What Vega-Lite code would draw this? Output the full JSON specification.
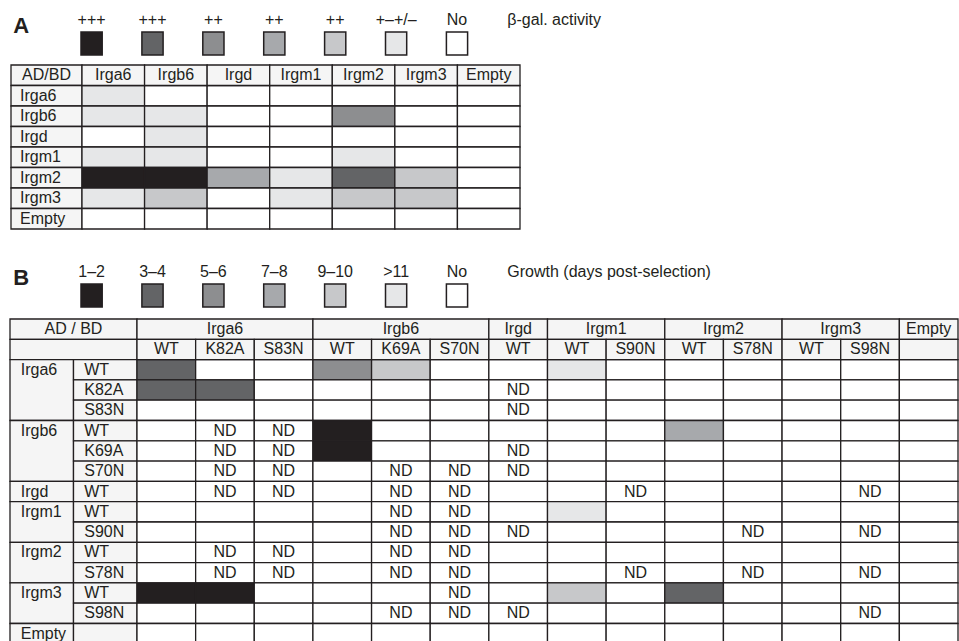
{
"$schema":"https://vega.github.io/schema/vega-lite/v6.json",
"width":959,"height":641,"autosize":{"type":"none"},"padding":0,"background":"#ffffff",
"config":{"view":{"stroke":null},"text":{"font":"Liberation Sans","fontSize":16,"fill":"#231f20"},"rect":{"stroke":"#231f20","strokeWidth":1.3}},
"datasets":{
"legend":[
{"panel":"A","k":"P","t":"A"},
{"panel":"A","k":"L1","t":"+++","v":"g1"},
{"panel":"A","k":"L2","t":"+++","v":"g2"},
{"panel":"A","k":"L3","t":"++","v":"g3"},
{"panel":"A","k":"L4","t":"++","v":"g4"},
{"panel":"A","k":"L5","t":"++","v":"g5"},
{"panel":"A","k":"L6","t":"+–+/–","v":"g6"},
{"panel":"A","k":"L7","t":"No","v":"w"},
{"panel":"A","k":"T","t":"β-gal. activity"},
{"panel":"B","k":"P","t":"B"},
{"panel":"B","k":"L1","t":"1–2","v":"g1"},
{"panel":"B","k":"L2","t":"3–4","v":"g2"},
{"panel":"B","k":"L3","t":"5–6","v":"g3"},
{"panel":"B","k":"L4","t":"7–8","v":"g4"},
{"panel":"B","k":"L5","t":"9–10","v":"g5"},
{"panel":"B","k":"L6","t":">11","v":"g6"},
{"panel":"B","k":"L7","t":"No","v":"w"},
{"panel":"B","k":"T","t":"Growth (days post-selection)"}
],
"aBody":[
{"ad":"Irga6","Irga6":"g6"},
{"ad":"Irgb6","Irga6":"g6","Irgb6":"g6","Irgm2":"g3"},
{"ad":"Irgd","Irgb6":"g6"},
{"ad":"Irgm1","Irga6":"g6","Irgb6":"g6","Irgm2":"g6"},
{"ad":"Irgm2","Irga6":"g1","Irgb6":"g1","Irgd":"g4","Irgm1":"g6","Irgm2":"g2","Irgm3":"g5"},
{"ad":"Irgm3","Irga6":"g6","Irgb6":"g5","Irgm1":"g6","Irgm2":"g5","Irgm3":"g5"},
{"ad":"Empty"}
],
"aLab":[
{"c":"AD/BD","r":"AD/BD","t":"AD/BD"},
{"c":"AD/BD","r":"Irga6","t":"Irga6"},
{"c":"AD/BD","r":"Irgb6","t":"Irgb6"},
{"c":"AD/BD","r":"Irgd","t":"Irgd"},
{"c":"AD/BD","r":"Irgm1","t":"Irgm1"},
{"c":"AD/BD","r":"Irgm2","t":"Irgm2"},
{"c":"AD/BD","r":"Irgm3","t":"Irgm3"},
{"c":"AD/BD","r":"Empty","t":"Empty"}
],
"aHdr":[
{"c":"Irga6","r":"AD/BD","t":"Irga6"},
{"c":"Irgb6","r":"AD/BD","t":"Irgb6"},
{"c":"Irgd","r":"AD/BD","t":"Irgd"},
{"c":"Irgm1","r":"AD/BD","t":"Irgm1"},
{"c":"Irgm2","r":"AD/BD","t":"Irgm2"},
{"c":"Irgm3","r":"AD/BD","t":"Irgm3"},
{"c":"Empty","r":"AD/BD","t":"Empty"}
],
"bBody":[
{"r":"a6WT","a6WT":"g2","b6WT":"g3","b6K":"g5","m1WT":"g6"},
{"r":"a6K","a6WT":"g2","a6K":"g2","dWT":"ND"},
{"r":"a6S","dWT":"ND"},
{"r":"b6WT","a6K":"ND","a6S":"ND","b6WT":"g1","m2WT":"g4"},
{"r":"b6K","a6K":"ND","a6S":"ND","b6WT":"g1","dWT":"ND"},
{"r":"b6S","a6K":"ND","a6S":"ND","b6K":"ND","b6S":"ND","dWT":"ND"},
{"r":"dWT","a6K":"ND","a6S":"ND","b6K":"ND","b6S":"ND","m1S":"ND","m3S":"ND"},
{"r":"m1WT","b6K":"ND","b6S":"ND","m1WT":"g6"},
{"r":"m1S","b6K":"ND","b6S":"ND","dWT":"ND","m2S":"ND","m3S":"ND"},
{"r":"m2WT","a6K":"ND","a6S":"ND","b6K":"ND","b6S":"ND"},
{"r":"m2S","a6K":"ND","a6S":"ND","b6K":"ND","b6S":"ND","m1S":"ND","m2S":"ND","m3S":"ND"},
{"r":"m3WT","a6WT":"g1","a6K":"g1","b6S":"ND","m1WT":"g5","m2WT":"g2"},
{"r":"m3S","b6K":"ND","b6S":"ND","dWT":"ND","m3S":"ND"},
{"r":"E"}
],
"bLab":[
{"x0":"g","x1":"v","y0":"h1","y1":"h1","t":"AD      /      BD","k":"e"},
{"x0":"g","x1":"v","y0":"h2","y1":"h2","t":""},
{"x0":"g","x1":"g","y0":"a6WT","y1":"a6S","t":"Irga6","k":"l"},
{"x0":"g","x1":"g","y0":"b6WT","y1":"b6S","t":"Irgb6","k":"l"},
{"x0":"g","x1":"g","y0":"dWT","y1":"dWT","t":"Irgd","k":"l"},
{"x0":"g","x1":"g","y0":"m1WT","y1":"m1S","t":"Irgm1","k":"l"},
{"x0":"g","x1":"g","y0":"m2WT","y1":"m2S","t":"Irgm2","k":"l"},
{"x0":"g","x1":"g","y0":"m3WT","y1":"m3S","t":"Irgm3","k":"l"},
{"x0":"g","x1":"g","y0":"E","y1":"E","t":"Empty","k":"l"},
{"x0":"v","x1":"v","y0":"a6WT","y1":"a6WT","t":"WT","k":"l"},
{"x0":"v","x1":"v","y0":"a6K","y1":"a6K","t":"K82A","k":"l"},
{"x0":"v","x1":"v","y0":"a6S","y1":"a6S","t":"S83N","k":"l"},
{"x0":"v","x1":"v","y0":"b6WT","y1":"b6WT","t":"WT","k":"l"},
{"x0":"v","x1":"v","y0":"b6K","y1":"b6K","t":"K69A","k":"l"},
{"x0":"v","x1":"v","y0":"b6S","y1":"b6S","t":"S70N","k":"l"},
{"x0":"v","x1":"v","y0":"dWT","y1":"dWT","t":"WT","k":"l"},
{"x0":"v","x1":"v","y0":"m1WT","y1":"m1WT","t":"WT","k":"l"},
{"x0":"v","x1":"v","y0":"m1S","y1":"m1S","t":"S90N","k":"l"},
{"x0":"v","x1":"v","y0":"m2WT","y1":"m2WT","t":"WT","k":"l"},
{"x0":"v","x1":"v","y0":"m2S","y1":"m2S","t":"S78N","k":"l"},
{"x0":"v","x1":"v","y0":"m3WT","y1":"m3WT","t":"WT","k":"l"},
{"x0":"v","x1":"v","y0":"m3S","y1":"m3S","t":"S98N","k":"l"},
{"x0":"v","x1":"v","y0":"E","y1":"E","t":""}
],
"bHdr":[
{"x0":"a6WT","x1":"a6S","y":"h1","t":"Irga6","m":"a6K","k":"c"},
{"x0":"b6WT","x1":"b6S","y":"h1","t":"Irgb6","m":"b6K","k":"c"},
{"x0":"dWT","x1":"dWT","y":"h1","t":"Irgd","m":"dWT","k":"c"},
{"x0":"m1WT","x1":"m1S","y":"h1","t":"Irgm1","m":"m1S","k":"e"},
{"x0":"m2WT","x1":"m2S","y":"h1","t":"Irgm2","m":"m2S","k":"e"},
{"x0":"m3WT","x1":"m3S","y":"h1","t":"Irgm3","m":"m3S","k":"e"},
{"x0":"E","x1":"E","y":"h1","t":"Empty","m":"E","k":"c"},
{"x0":"a6WT","x1":"a6WT","y":"h2","t":"WT","m":"a6WT","k":"c"},
{"x0":"a6K","x1":"a6K","y":"h2","t":"K82A","m":"a6K","k":"c"},
{"x0":"a6S","x1":"a6S","y":"h2","t":"S83N","m":"a6S","k":"c"},
{"x0":"b6WT","x1":"b6WT","y":"h2","t":"WT","m":"b6WT","k":"c"},
{"x0":"b6K","x1":"b6K","y":"h2","t":"K69A","m":"b6K","k":"c"},
{"x0":"b6S","x1":"b6S","y":"h2","t":"S70N","m":"b6S","k":"c"},
{"x0":"dWT","x1":"dWT","y":"h2","t":"WT","m":"dWT","k":"c"},
{"x0":"m1WT","x1":"m1WT","y":"h2","t":"WT","m":"m1WT","k":"c"},
{"x0":"m1S","x1":"m1S","y":"h2","t":"S90N","m":"m1S","k":"c"},
{"x0":"m2WT","x1":"m2WT","y":"h2","t":"WT","m":"m2WT","k":"c"},
{"x0":"m2S","x1":"m2S","y":"h2","t":"S78N","m":"m2S","k":"c"},
{"x0":"m3WT","x1":"m3WT","y":"h2","t":"WT","m":"m3WT","k":"c"},
{"x0":"m3S","x1":"m3S","y":"h2","t":"S98N","m":"m3S","k":"c"},
{"x0":"E","x1":"E","y":"h2","t":"","m":"E","k":"c"}
]
},
"layer":[
{"data":{"name":"legend"},
 "encoding":{
  "x":{"field":"k","type":"nominal","axis":null,"scale":{"domain":["P","L1","L2","L3","L4","L5","L6","L7","T"],"range":[20.1,528.5],"paddingInner":0.652,"paddingOuter":0}},
  "y":{"field":"panel","type":"nominal","axis":null,"scale":{"domain":["A","B"],"range":[32,307],"paddingInner":0.9087,"paddingOuter":0}}},
 "layer":[
  {"transform":[{"filter":"datum.v"}],"mark":{"type":"rect","strokeWidth":1.5},"encoding":{"fill":{"field":"v","type":"nominal","legend":null,"scale":{"domain":["g1","g2","g3","g4","g5","g6","w"],"range":["#231f20","#636466","#8d8e90","#a7a9ac","#c7c8ca","#e6e7e8","#ffffff"]}}}},
  {"transform":[{"filter":"datum.v"}],"mark":{"type":"text","baseline":"alphabetic","dy":-18.5},"encoding":{"text":{"field":"t"}}},
  {"transform":[{"filter":"datum.k === 'T'"}],"mark":{"type":"text","align":"left","baseline":"alphabetic","dx":-10.6,"dy":-18.5},"encoding":{"text":{"field":"t"}}},
  {"transform":[{"filter":"datum.k === 'P'"}],"mark":{"type":"text","align":"left","baseline":"alphabetic","dx":-17.5,"dy":-10.5,"fontSize":22,"fontWeight":"bold"},"encoding":{"text":{"field":"t"}}}
 ]},
{"layer":[
  {"data":{"name":"aLab"},
   "encoding":{
    "x":{"field":"c","type":"nominal","axis":null,"scale":{"domain":["AD/BD"],"range":[11,82],"paddingInner":0,"paddingOuter":0}},
    "y":{"field":"r","type":"nominal","axis":null,"scale":{"domain":["AD/BD","Irga6","Irgb6","Irgd","Irgm1","Irgm2","Irgm3","Empty"],"range":[65,229],"paddingInner":0,"paddingOuter":0}}},
   "layer":[
    {"mark":{"type":"rect","fill":"#f5f5f5"}},
    {"transform":[{"filter":"datum.r === 'AD/BD'"}],"mark":"text","encoding":{"text":{"field":"t"}}},
    {"transform":[{"filter":"datum.r !== 'AD/BD'"}],"mark":{"type":"text","align":"left","dx":-26.5},"encoding":{"text":{"field":"t"}}}
   ]},
  {"layer":[
    {"data":{"name":"aBody"},"transform":[{"fold":["Irga6","Irgb6","Irgd","Irgm1","Irgm2","Irgm3","Empty"],"as":["bd","v"]}],
     "mark":"rect",
     "encoding":{
      "x":{"field":"bd","type":"nominal","axis":null,"scale":{"domain":["Irga6","Irgb6","Irgd","Irgm1","Irgm2","Irgm3","Empty"],"range":[82,520],"paddingInner":0,"paddingOuter":0}},
      "y":{"field":"ad","type":"nominal","axis":null,"scale":{"domain":["AD/BD","Irga6","Irgb6","Irgd","Irgm1","Irgm2","Irgm3","Empty"],"range":[65,229],"paddingInner":0,"paddingOuter":0}},
      "fill":{"condition":{"test":"datum.v","field":"v","type":"nominal","legend":null,"scale":{"domain":["g1","g2","g3","g4","g5","g6","w"],"range":["#231f20","#636466","#8d8e90","#a7a9ac","#c7c8ca","#e6e7e8","#ffffff"]}},"value":"#ffffff"}}},
    {"data":{"name":"aHdr"},
     "encoding":{
      "x":{"field":"c","type":"nominal","axis":null,"scale":{"domain":["Irga6","Irgb6","Irgd","Irgm1","Irgm2","Irgm3","Empty"],"range":[82,520],"paddingInner":0,"paddingOuter":0}},
      "y":{"field":"r","type":"nominal","axis":null,"scale":{"domain":["AD/BD","Irga6","Irgb6","Irgd","Irgm1","Irgm2","Irgm3","Empty"],"range":[65,229],"paddingInner":0,"paddingOuter":0}}},
     "layer":[
      {"mark":{"type":"rect","fill":"#f5f5f5"}},
      {"mark":"text","encoding":{"text":{"field":"t"}}}
     ]}
  ]}
 ],
 "resolve":{"scale":{"x":"independent"}}},
{"layer":[
  {"data":{"name":"bLab"},
   "layer":[
    {"mark":{"type":"rect","fill":"#f5f5f5"},
     "encoding":{
      "x":{"field":"x0","type":"nominal","bandPosition":0,"axis":null,"scale":{"domain":["g","v"],"range":[10,137],"paddingInner":0,"paddingOuter":0}},
      "x2":{"field":"x1","bandPosition":1},
      "y":{"field":"y0","type":"nominal","bandPosition":0,"axis":null,"scale":{"domain":["h1","h2","a6WT","a6K","a6S","b6WT","b6K","b6S","dWT","m1WT","m1S","m2WT","m2S","m3WT","m3S","E"],"range":[319,643.8],"paddingInner":0,"paddingOuter":0}},
      "y2":{"field":"y1","bandPosition":1}}},
    {"transform":[{"filter":"datum.k === 'l'"}],"mark":{"type":"text","align":"left","dx":-21},
     "encoding":{
      "x":{"field":"x0","type":"nominal","axis":null,"scale":{"domain":["g","v"],"range":[10,137],"paddingInner":0,"paddingOuter":0}},
      "y":{"field":"y0","type":"nominal","axis":null,"scale":{"domain":["h1","h2","a6WT","a6K","a6S","b6WT","b6K","b6S","dWT","m1WT","m1S","m2WT","m2S","m3WT","m3S","E"],"range":[319,643.8],"paddingInner":0,"paddingOuter":0}},
      "text":{"field":"t"}}},
    {"transform":[{"filter":"datum.k === 'e'"}],"mark":{"type":"text"},
     "encoding":{
      "x":{"field":"x1","type":"nominal","bandPosition":0,"axis":null,"scale":{"domain":["g","v"],"range":[10,137],"paddingInner":0,"paddingOuter":0}},
      "y":{"field":"y0","type":"nominal","axis":null,"scale":{"domain":["h1","h2","a6WT","a6K","a6S","b6WT","b6K","b6S","dWT","m1WT","m1S","m2WT","m2S","m3WT","m3S","E"],"range":[319,643.8],"paddingInner":0,"paddingOuter":0}},
      "text":{"field":"t"}}}
   ]},
  {"layer":[
    {"data":{"name":"bBody"},"transform":[{"fold":["a6WT","a6K","a6S","b6WT","b6K","b6S","dWT","m1WT","m1S","m2WT","m2S","m3WT","m3S","E"],"as":["c","v"]}],
     "encoding":{
      "x":{"field":"c","type":"nominal","axis":null,"scale":{"domain":["a6WT","a6K","a6S","b6WT","b6K","b6S","dWT","m1WT","m1S","m2WT","m2S","m3WT","m3S","E"],"range":[137,958],"paddingInner":0,"paddingOuter":0}},
      "y":{"field":"r","type":"nominal","axis":null,"scale":{"domain":["h1","h2","a6WT","a6K","a6S","b6WT","b6K","b6S","dWT","m1WT","m1S","m2WT","m2S","m3WT","m3S","E"],"range":[319,643.8],"paddingInner":0,"paddingOuter":0}}},
     "layer":[
      {"mark":"rect","encoding":{"fill":{"condition":{"test":"datum.v && datum.v !== 'ND'","field":"v","type":"nominal","legend":null,"scale":{"domain":["g1","g2","g3","g4","g5","g6","w"],"range":["#231f20","#636466","#8d8e90","#a7a9ac","#c7c8ca","#e6e7e8","#ffffff"]}},"value":"#ffffff"}}},
      {"transform":[{"filter":"datum.v === 'ND'"}],"mark":"text","encoding":{"text":{"field":"v"}}}
     ]},
    {"data":{"name":"bHdr"},
     "layer":[
      {"mark":{"type":"rect","fill":"#f5f5f5"},
       "encoding":{
        "x":{"field":"x0","type":"nominal","bandPosition":0,"axis":null,"scale":{"domain":["a6WT","a6K","a6S","b6WT","b6K","b6S","dWT","m1WT","m1S","m2WT","m2S","m3WT","m3S","E"],"range":[137,958],"paddingInner":0,"paddingOuter":0}},
        "x2":{"field":"x1","bandPosition":1},
        "y":{"field":"y","type":"nominal","axis":null,"scale":{"domain":["h1","h2","a6WT","a6K","a6S","b6WT","b6K","b6S","dWT","m1WT","m1S","m2WT","m2S","m3WT","m3S","E"],"range":[319,643.8],"paddingInner":0,"paddingOuter":0}}}},
      {"transform":[{"filter":"datum.k === 'c'"}],"mark":"text",
       "encoding":{
        "x":{"field":"m","type":"nominal","axis":null,"scale":{"domain":["a6WT","a6K","a6S","b6WT","b6K","b6S","dWT","m1WT","m1S","m2WT","m2S","m3WT","m3S","E"],"range":[137,958],"paddingInner":0,"paddingOuter":0}},
        "y":{"field":"y","type":"nominal","axis":null,"scale":{"domain":["h1","h2","a6WT","a6K","a6S","b6WT","b6K","b6S","dWT","m1WT","m1S","m2WT","m2S","m3WT","m3S","E"],"range":[319,643.8],"paddingInner":0,"paddingOuter":0}},
        "text":{"field":"t"}}},
      {"transform":[{"filter":"datum.k === 'e'"}],"mark":"text",
       "encoding":{
        "x":{"field":"m","type":"nominal","bandPosition":0,"axis":null,"scale":{"domain":["a6WT","a6K","a6S","b6WT","b6K","b6S","dWT","m1WT","m1S","m2WT","m2S","m3WT","m3S","E"],"range":[137,958],"paddingInner":0,"paddingOuter":0}},
        "y":{"field":"y","type":"nominal","axis":null,"scale":{"domain":["h1","h2","a6WT","a6K","a6S","b6WT","b6K","b6S","dWT","m1WT","m1S","m2WT","m2S","m3WT","m3S","E"],"range":[319,643.8],"paddingInner":0,"paddingOuter":0}},
        "text":{"field":"t"}}}
     ]}
  ]}
 ],
 "resolve":{"scale":{"x":"independent"}}}
],
"resolve":{"scale":{"x":"independent","y":"independent"}}
}
